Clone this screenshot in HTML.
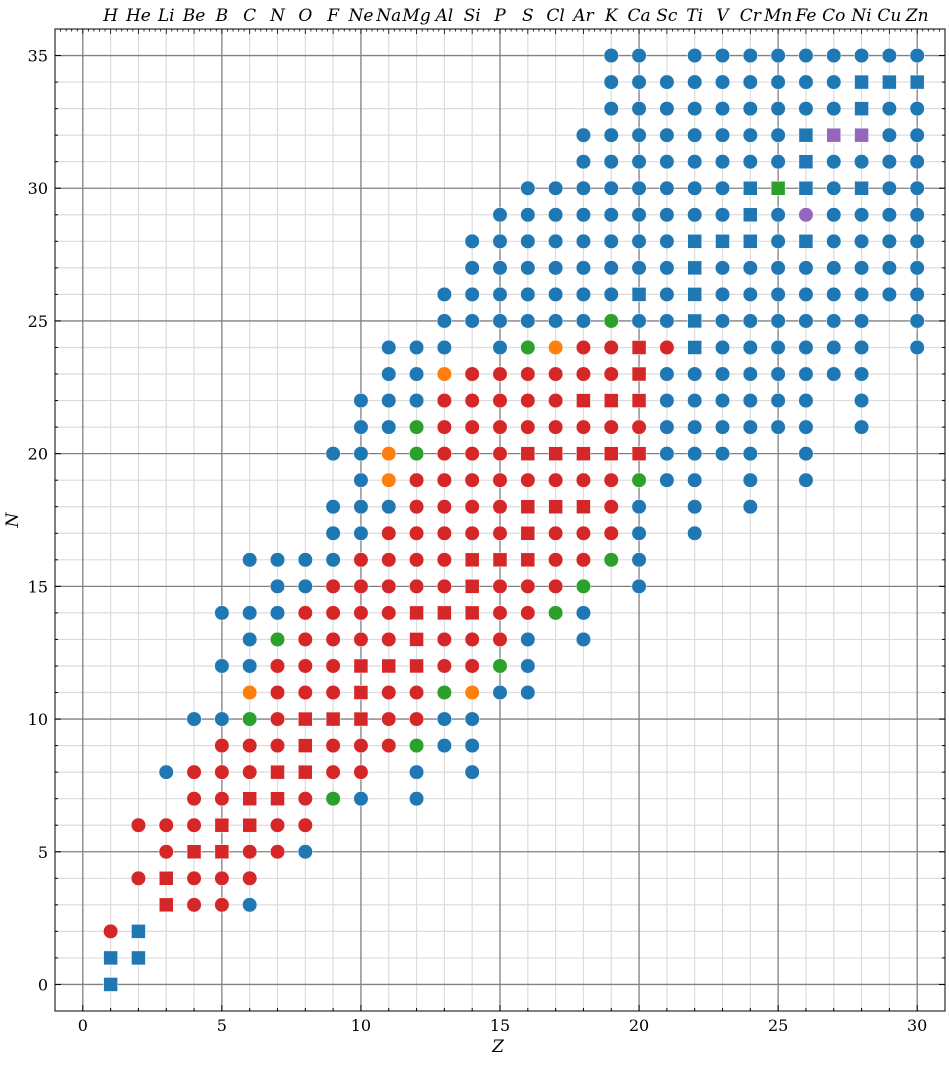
<!DOCTYPE html>
<html><head><meta charset="utf-8"><style>
html,body{margin:0;padding:0;background:#fff;}
svg text{font-family:"DejaVu Serif","Liberation Serif",serif;}
</style></head><body>
<svg id="chart" width="949" height="1060" xmlns="http://www.w3.org/2000/svg">
<rect x="0" y="0" width="949" height="1060" fill="#fff"/>
<g id="grid"></g>
<g id="marks"></g>
<g id="axes"></g>
</svg>
<script>
const elements = ["H","He","Li","Be","B","C","N","O","F","Ne","Na","Mg","Al","Si","P","S","Cl","Ar","K","Ca","Sc","Ti","V","Cr","Mn","Fe","Co","Ni","Cu","Zn"];
const xTicks = [0,5,10,15,20,25,30];
const yTicks = [0,5,10,15,20,25,30,35];
// one string per neutron number N (index = N); entries "Z+kind"
// b=blue circle B=blue square r=red circle R=red square g=green circle G=green square o=orange p=purple circle P=purple square
const rows = [
"1B",
"1B 2B",
"1r 2B",
"3R 4r 5r 6b",
"2r 3R 4r 5r 6r",
"3r 4R 5R 6r 7r 8b",
"2r 3r 4r 5R 6R 7r 8r",
"4r 5r 6R 7R 8r 9g 10b 12b",
"3b 4r 5r 6r 7R 8R 9r 10r 12b 14b",
"5r 6r 7r 8R 9r 10r 11r 12g 13b 14b",
"4b 5b 6g 7r 8R 9R 10R 11r 12r 13b 14b",
"6o 7r 8r 9r 10R 11r 12r 13g 14o 15b 16b",
"5b 6b 7r 8r 9r 10R 11R 12R 13r 14r 15g 16b",
"6b 7g 8r 9r 10r 11r 12R 13r 14r 15r 16b 18b",
"5b 6b 7b 8r 9r 10r 11r 12R 13R 14R 15r 16r 17g 18b",
"7b 8b 9r 10r 11r 12r 13r 14R 15r 16r 17r 18g 20b",
"6b 7b 8b 9b 10r 11r 12r 13r 14R 15R 16R 17r 18r 19g 20b",
"9b 10b 11r 12r 13r 14r 15r 16R 17r 18r 19r 20b 22b",
"9b 10b 11b 12r 13r 14r 15r 16R 17R 18R 19r 20b 22b 24b",
"10b 11o 12r 13r 14r 15r 16r 17r 18r 19r 20g 21b 22b 24b 26b",
"9b 10b 11o 12g 13r 14r 15r 16R 17R 18R 19R 20R 21b 22b 23b 24b 26b",
"10b 11b 12g 13r 14r 15r 16r 17r 18r 19r 20r 21b 22b 23b 24b 25b 26b 28b",
"10b 11b 12b 13r 14r 15r 16r 17r 18R 19R 20R 21b 22b 23b 24b 25b 26b 28b",
"11b 12b 13o 14r 15r 16r 17r 18r 19r 20R 21b 22b 23b 24b 25b 26b 27b 28b",
"11b 12b 13b 15b 16g 17o 18r 19r 20R 21r 22B 23b 24b 25b 26b 27b 28b 30b",
"13b 14b 15b 16b 17b 18b 19g 20b 21b 22B 23b 24b 25b 26b 27b 28b 30b",
"13b 14b 15b 16b 17b 18b 19b 20B 21b 22B 23b 24b 25b 26b 27b 28b 29b 30b",
"14b 15b 16b 17b 18b 19b 20b 21b 22B 23b 24b 25b 26b 27b 28b 29b 30b",
"14b 15b 16b 17b 18b 19b 20b 21b 22B 23B 24B 25b 26B 27b 28b 29b 30b",
"15b 16b 17b 18b 19b 20b 21b 22b 23b 24B 25b 26p 27b 28b 29b 30b",
"16b 17b 18b 19b 20b 21b 22b 23b 24B 25G 26B 27b 28B 29b 30b",
"18b 19b 20b 21b 22b 23b 24b 25b 26B 27b 28b 29b 30b",
"18b 19b 20b 21b 22b 23b 24b 25b 26B 27P 28P 29b 30b",
"19b 20b 21b 22b 23b 24b 25b 26b 27b 28B 29b 30b",
"19b 20b 21b 22b 23b 24b 25b 26b 27b 28B 29B 30B",
"19b 20b 22b 23b 24b 25b 26b 27b 28b 29b 30b"
];
const zVals = [], nVals = [], kinds = [];
rows.forEach((r, n) => r.split(" ").forEach(t => { zVals.push(parseInt(t)); nVals.push(n); kinds.push(t.replace(/[0-9]/g, "")); }));

const NS = "http://www.w3.org/2000/svg";
const L = 55, R = 945, T = 29, B = 1011;
const xMin = -1, xMax = 31, yMin = -1, yMax = 36;
const X = v => L + (v - xMin) / (xMax - xMin) * (R - L);
const Y = v => B - (v - yMin) / (yMax - yMin) * (B - T);
function mk(tag, attrs, parent) { const e = document.createElementNS(NS, tag); for (const k in attrs) e.setAttribute(k, attrs[k]); parent.appendChild(e); return e; }
const grid = document.getElementById("grid"), marks = document.getElementById("marks"), axes = document.getElementById("axes");

// minor grid
for (let z = 0; z <= 30; z++) { if (z % 5) { const l = mk("line", {x1: X(z), x2: X(z), y1: T, y2: B, stroke: "#dcdcdc", "stroke-width": 1.2}, grid);

 } }
for (let n = 0; n <= 35; n++) { if (n % 5) { const l = mk("line", {x1: L, x2: R, y1: Y(n), y2: Y(n), stroke: "#dcdcdc", "stroke-width": 1.2}, grid);

 } }
xTicks.forEach(z => { const l = mk("line", {x1: X(z), x2: X(z), y1: T, y2: B, stroke: "#808080", "stroke-width": 1.3}, grid);

 });
yTicks.forEach(n => { const l = mk("line", {x1: L, x2: R, y1: Y(n), y2: Y(n), stroke: "#808080", "stroke-width": 1.3}, grid);

 });

const colors = {b: "#1f77b4", B: "#1f77b4", r: "#d62728", R: "#d62728", g: "#2ca02c", G: "#2ca02c", o: "#ff7f0e", O: "#ff7f0e", p: "#9467bd", P: "#9467bd"};
for (let i = 0; i < zVals.length; i++) {
  const k = kinds[i], cx = X(zVals[i]), cy = Y(nVals[i]);
  let e;
  if (k === k.toUpperCase()) {
    e = mk("rect", {x: cx - 7, y: cy - 7, width: 14, height: 14, fill: colors[k], stroke: "#fff", "stroke-width": 0.5}, marks);
  } else {
    e = mk("circle", {cx: cx, cy: cy, r: 7.3, fill: colors[k], stroke: "#fff", "stroke-width": 0.5}, marks);
  }
  
  
}

// frame
const fr = mk("rect", {x: L, y: T, width: R - L, height: B - T, fill: "none", stroke: "#000", "stroke-width": 1}, axes);


// ticks
for (let z = 0; z <= 30; z++) {
  const len = z % 5 ? 3 : 6;
  mk("line", {x1: X(z), x2: X(z), y1: B, y2: B - len, stroke: "#000"}, axes);
}
for (let z = -1; z <= 31.001; z += 0.2) {
  const zr = Math.round(z * 5) / 5;
  const len = Math.abs(zr - Math.round(zr)) < 1e-6 ? 5 : 2.5;
  mk("line", {x1: X(zr), x2: X(zr), y1: T, y2: T + len, stroke: "#000", "stroke-width": 0.8}, axes);
}
for (let n = -1; n <= 36; n++) {
  const len = n % 5 ? 3 : 6;
  mk("line", {x1: L, x2: L + len, y1: Y(n), y2: Y(n), stroke: "#000"}, axes);
  mk("line", {x1: R, x2: R - len, y1: Y(n), y2: Y(n), stroke: "#000"}, axes);
}
xTicks.forEach(z => { const t = mk("text", {x: X(z), y: 1031, "text-anchor": "middle", "font-size": 16}, axes); t.textContent = z;

 });
yTicks.forEach(n => { const t = mk("text", {x: 48, y: Y(n) + 6, "text-anchor": "end", "font-size": 16}, axes); t.textContent = n;

 });
elements.forEach((s, i) => { const t = mk("text", {x: X(i + 1), y: 21, "text-anchor": "middle", "font-size": 17, "font-style": "italic"}, axes); t.textContent = s;

 });
const xl = mk("text", {x: 498, y: 1052, "text-anchor": "middle", "font-size": 17, "font-style": "italic"}, axes); xl.textContent = "Z";


const yl = mk("text", {x: 18, y: 520, "text-anchor": "middle", "font-size": 17, "font-style": "italic", transform: "rotate(-90 18 520)"}, axes); yl.textContent = "N";


</script>
</body></html>
